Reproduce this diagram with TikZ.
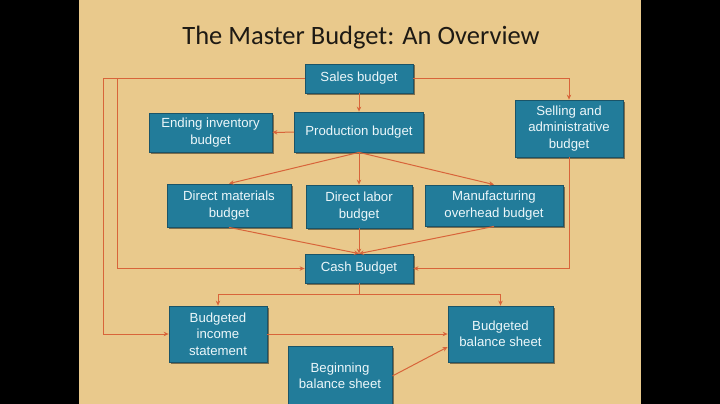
\documentclass[tikz,border=0pt]{standalone}
\usepackage{fontspec}
\setmainfont{Liberation Sans}
\newfontfamily\titlefont{Carlito}
\usetikzlibrary{arrows.meta,shadows}

\definecolor{parch}{RGB}{233,201,140}
\definecolor{boxfill}{RGB}{34,124,154}
\definecolor{boxedge}{RGB}{26,84,104}
\definecolor{boxtext}{RGB}{236,247,250}
\definecolor{linkcol}{RGB}{216,100,58}

\tikzset{
    budget/.style={draw=boxedge, line width=0.8pt, fill=boxfill, text=boxtext,
        align=center, inner sep=0pt, font=\fontsize{13.2}{16.5}\selectfont,
        drop shadow={shadow xshift=1.5pt, shadow yshift=-1.5pt, opacity=0.45, fill=black}},
    wire/.style={draw=linkcol, line width=1pt},
    link/.style={wire, -{Stealth[length=5pt,width=4.5pt]}}
}

\begin{document}
\begin{tikzpicture}[x=1pt, y=-1pt]
        \useasboundingbox (0,0) rectangle (720,404);
        \fill[black] (0,0) rectangle (720,404);
        \fill[parch] (79,0) rectangle (641,404);

        \begin{scope}
        \clip (79,0) rectangle (641,404);

        \node[font=\titlefont\fontsize{26.5}{30}\selectfont, text={rgb,255:red,30;green,26;blue,20}]
            (title) at (361,38) {The Master Budget: An Overview};

        \node[budget, minimum width=108pt, minimum height=29pt] (sales) at (359,78.5) {Sales budget};
        \node[budget, minimum width=129pt, minimum height=40pt] (production) at (359,132) {Production budget};
        \node[budget, minimum width=123pt, minimum height=39pt] (endinv) at (210.5,132.5) {Ending inventory\\budget};
        \node[budget, minimum width=108pt, minimum height=57pt] (selladmin) at (569,128.5) {Selling and\\administrative\\budget};
        \node[budget, minimum width=124pt, minimum height=43pt] (dirmat) at (229,205.5) {Direct materials\\budget};
        \node[budget, minimum width=106pt, minimum height=43pt] (dirlab) at (359,206.5) {Direct labor\\budget};
        \node[budget, minimum width=138pt, minimum height=41pt] (mfgoh) at (494,205.5) {Manufacturing\\overhead budget};
        \node[budget, minimum width=108pt, minimum height=29pt] (cash) at (359,268.5) {Cash Budget};
        \node[budget, minimum width=98pt, minimum height=56pt] (income) at (218,334) {Budgeted\\income\\statement};
        \node[budget, minimum width=105pt, minimum height=56pt] (balsheet) at (500.5,334) {Budgeted\\balance sheet};
        \node[budget, minimum width=104pt, minimum height=60pt] (begbal) at (340,376) {Beginning\\balance sheet};

        \coordinate (outerL) at (103,0);
        \coordinate (innerL) at (117,0);
        \coordinate (split) at ([yshift=-11pt]cash.south);

        \draw[link] (sales.west) -| (outerL |- income.west) -- (income.west);
        \draw[link] (sales.west) -| (innerL |- cash.west) -- (cash.west);
        \draw[link] (sales.east) -| (selladmin.north);
        \draw[link] (sales) -- (production);
        \draw[link] (production) -- (endinv);
        \draw[link] (production.south) -- (dirmat.north);
        \draw[link] (production) -- (dirlab);
        \draw[link] (production.south) -- (mfgoh.north);
        \draw[link] (dirmat.south) -- (cash.north);
        \draw[link] (dirlab) -- (cash);
        \draw[link] (mfgoh.south) -- (cash.north);
        \draw[link] (selladmin.south) |- (cash.east);
        \draw[wire] (cash.south) -- (split);
        \draw[link] (split) -| (income.north);
        \draw[link] (split) -| (balsheet.north);
        \draw[link] (income) -- (balsheet);
        \draw[link] (begbal.east) -- ([yshift=-13pt]balsheet.west);
        \end{scope}
    \end{tikzpicture}
\end{document}
